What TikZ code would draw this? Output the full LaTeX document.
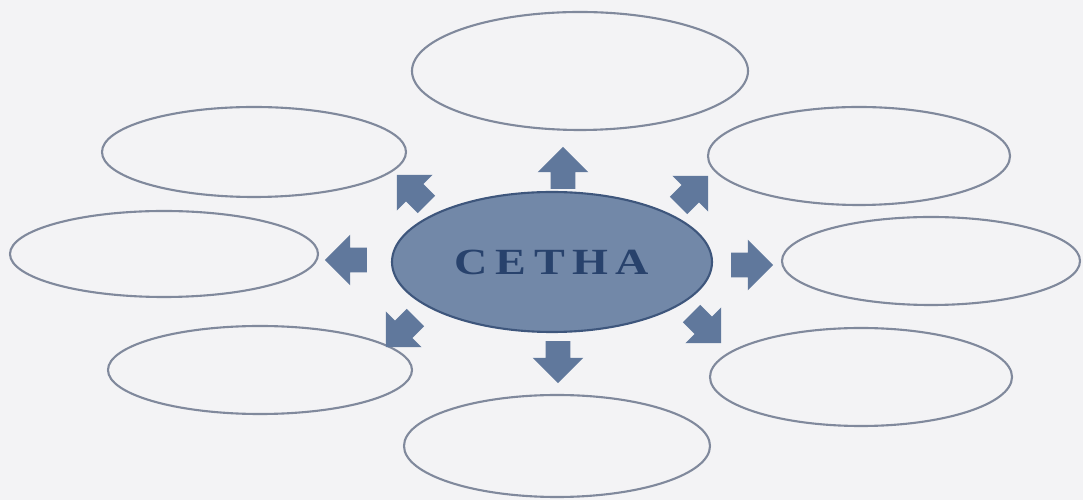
\documentclass[tikz,border=0pt]{standalone}
\usepackage{fontspec}
\usetikzlibrary{shapes,arrows,positioning}
\newfontfamily\cethafont{Liberation Serif}
\definecolor{paper}{RGB}{243,243,245}
\definecolor{hubfill}{RGB}{114,136,168}
\definecolor{hubline}{RGB}{62,86,124}
\definecolor{arrowfill}{RGB}{96,120,156}
\definecolor{rimline}{RGB}{128,137,156}
\definecolor{hubtext}{RGB}{40,66,108}

\begin{document}
\begin{tikzpicture}
    % Define styles
    \tikzstyle{hub} = [ellipse, draw=hubline, fill=hubfill, line width=1.2pt, minimum width=6.4cm, minimum height=2.8cm, inner sep=0pt]
    \tikzstyle{blank} = [ellipse, draw=rimline, line width=1.2pt, inner sep=0pt]
    \tikzstyle{spoke} = [single arrow, fill=arrowfill, draw=none, minimum height=0.84cm, single arrow head extend=0.26cm, single arrow head indent=0pt, inner xsep=0pt, inner ysep=0.24cm]

    % Page
    \fill [paper] (-11.04,-4.76) rectangle (10.62,5.24);
    \useasboundingbox (-11.04,-4.76) rectangle (10.62,5.24);

    % Centre
    \node [hub] (cetha) at (0,0) {\scalebox{1.25}[1]{\cethafont\fontsize{21}{21}\selectfont\bfseries\color{hubtext}C\hspace{0.12cm}E\hspace{0.12cm}T\hspace{0.12cm}H\hspace{0.12cm}A}};

    % Empty ellipses round it
    \node [blank, minimum width=6.72cm, minimum height=2.36cm] (top) at (0.56,3.82) {};
    \node [blank, minimum width=6.08cm, minimum height=1.80cm] (upleft) at (-5.96,2.20) {};
    \node [blank, minimum width=6.04cm, minimum height=1.96cm] (upright) at (6.14,2.12) {};
    \node [blank, minimum width=6.16cm, minimum height=1.72cm] (left) at (-7.76,0.16) {};
    \node [blank, minimum width=5.96cm, minimum height=1.76cm] (right) at (7.58,0.02) {};
    \node [blank, minimum width=6.08cm, minimum height=1.76cm] (lowleft) at (-5.84,-2.16) {};
    \node [blank, minimum width=6.04cm, minimum height=1.96cm] (lowright) at (6.18,-2.30) {};
    \node [blank, minimum width=6.12cm, minimum height=2.04cm] (bottom) at (0.10,-3.68) {};

    % Block arrows
    \node [spoke, rotate=90] (toup) at (0.22,1.76) {};
    \node [spoke, rotate=-90] (todown) at (0.12,-1.88) {};
    \node [spoke, rotate=180] (toleft) at (-4.00,0.04) {};
    \node [spoke] (toright) at (3.88,-0.06) {};
    \node [spoke, rotate=135] (toupleft) at (-2.72,1.36) {};
    \node [spoke, rotate=45] (toupright) at (2.74,1.34) {};
    \node [spoke, rotate=225] (tolowleft) at (-2.94,-1.32) {};
    \node [spoke, rotate=-45] (tolowright) at (3.00,-1.24) {};
\end{tikzpicture}
\end{document}
